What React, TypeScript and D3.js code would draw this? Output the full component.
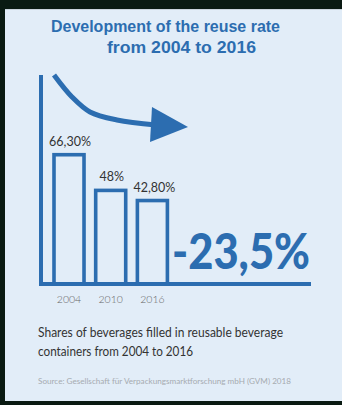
import React from "react";
import * as d3 from "d3";

const years = ["2004", "2010", "2016"];
const shares = [66.3, 48, 42.8];
const shareLabels = ["66,30%", "48%", "42,80%"];
const changeLabel = "-23,5%";
const titleLines = ["Development of the reuse rate", "from 2004 to 2016"];
const subtitleLines = ["Shares of beverages filled in reusable beverage", "containers from 2004 to 2016"];
const sourceText = "Source: Gesellschaft für Verpackungsmarktforschung mbH (GVM) 2018";

const W = 342;
const H = 405;
const BLUE = "#2c6db0";
const PANEL = "#e2edf8";
const FONT = "Lato, 'Open Sans', sans-serif";
const TFONT = "'Liberation Sans', Arial, sans-serif";

export default function App() {
  const baseY = 284;
  const x = d3.scaleBand<string>().domain(years).range([54, 167.4]).paddingInner(0.28).paddingOuter(0);
  const y = d3.scaleLinear().domain([0, 100]).range([baseY, 89]);

  // decorative trend arrow
  const arrowPts: [number, number][] = [
    [54, 75],
    [72, 97],
    [90, 112],
    [117, 120],
    [156, 125],
  ];
  const arrowPath = d3.line().curve(d3.curveCatmullRom.alpha(0.5))(arrowPts) || "";

  return (
    <svg
      width={W}
      height={H}
      style={{ position: "absolute", left: 0, top: 0, display: "block" }}
    >
      <rect x={0} y={0} width={W} height={H} fill="#0a1a12" />
      <rect x={5} y={9} width={W - 5} height={392} fill={PANEL} />
      <line x1={5} x2={W} y1={9.5} y2={9.5} stroke="#c9d3dc" strokeWidth={1} />

      {/* title */}
      <text x={51} y={32} fontFamily={TFONT} fontWeight="bold" fontSize={16} fill={BLUE} textLength={229} lengthAdjust="spacingAndGlyphs">
        {titleLines[0]}
      </text>
      <text x={107} y={53} fontFamily={TFONT} fontWeight="bold" fontSize={16} fill={BLUE} textLength={149} lengthAdjust="spacingAndGlyphs">
        {titleLines[1]}
      </text>

      {/* arrow */}
      <path d={arrowPath} fill="none" stroke={BLUE} strokeWidth={5} />
      <polygon points="152,107 188,127 150,142" fill={BLUE} />

      {/* left axis and baseline */}
      <line x1={41} x2={41} y1={75} y2={baseY + 2} stroke={BLUE} strokeWidth={4} />
      <line x1={39} x2={311} y1={baseY} y2={baseY} stroke={BLUE} strokeWidth={4} />

      {/* bars */}
      {years.map((yr, i) => (
        <g key={yr}>
          <rect
            x={x(yr)!}
            y={y(shares[i])}
            width={x.bandwidth()}
            height={baseY - y(shares[i])}
            fill="none"
            stroke={BLUE}
            strokeWidth={3.6}
          />
          <text
            x={x(yr)! + x.bandwidth() / 2 + (i === 2 ? 2 : 1)}
            y={y(shares[i]) - 9}
            textAnchor="middle"
            fontFamily={FONT}
            fontSize={12.5}
            fill="#333"
          >
            {shareLabels[i]}
          </text>
          <text
            x={x(yr)! + x.bandwidth() / 2}
            y={303}
            textAnchor="middle"
            fontFamily={FONT}
            fontSize={10.5}
            fontWeight={300}
            fill="#666"
          >
            {yr}
          </text>
        </g>
      ))}

      {/* change label */}
      <text x={172} y={269} fontFamily={FONT} fontWeight={900} fontSize={50} fill={BLUE} textLength={138} lengthAdjust="spacingAndGlyphs">
        {changeLabel}
      </text>

      {/* subtitle */}
      <text x={38} y={337} fontFamily={FONT} fontSize={13} fill="#333" textLength={245} lengthAdjust="spacingAndGlyphs">
        {subtitleLines[0]}
      </text>
      <text x={38} y={356} fontFamily={FONT} fontSize={13} fill="#333" textLength={155} lengthAdjust="spacingAndGlyphs">
        {subtitleLines[1]}
      </text>

      {/* source */}
      <text x={38} y={384} fontFamily={FONT} fontSize={8} fill="#a6abb0" textLength={253} lengthAdjust="spacingAndGlyphs">
        {sourceText}
      </text>
    </svg>
  );
}
